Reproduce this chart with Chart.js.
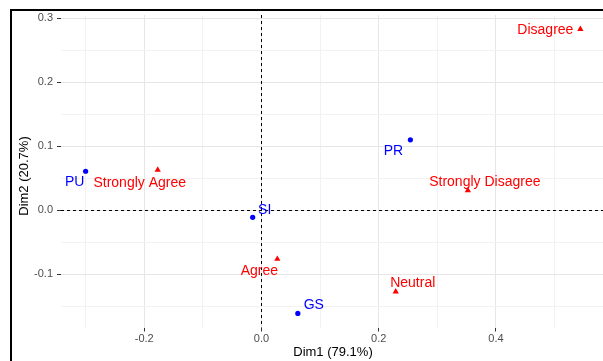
<!DOCTYPE html>
<html>
<head>
<meta charset="utf-8">
<script src="https://cdn.jsdelivr.net/npm/chart.js@4/dist/chart.umd.min.js"></script>
<style>
html,body{margin:0;padding:0;background:#fff;overflow:hidden;width:603px;height:361px;}
canvas{display:block;}
</style>
</head>
<body>
<canvas id="c" width="610" height="361"></canvas>
<script>
// ---- data ----
const varNames = ['PU', 'SI', 'GS', 'PR'];
const varX = [-0.300, -0.015, 0.062, 0.254];
const varY = [0.061, -0.011, -0.161, 0.110];

const catNames = ['Strongly Agree', 'Agree', 'Neutral', 'Strongly Disagree', 'Disagree'];
const catX = [-0.177, 0.027, 0.229, 0.352, 0.544];
const catY = [0.063, -0.076, -0.127, 0.031, 0.283];

const xGridValues = [-0.3, -0.2, -0.1, 0.0, 0.1, 0.2, 0.3, 0.4, 0.5];
const xTickLabels = [-0.2, 0.0, 0.2, 0.4];
const yGridValues = [-0.15, -0.1, -0.05, 0.0, 0.05, 0.1, 0.15, 0.2, 0.25, 0.3];
const yTickLabels = [-0.1, 0.0, 0.1, 0.2, 0.3];

const xTitle = 'Dim1 (79.1%)';
const yTitle = 'Dim2 (20.7%)';

// ---- styling ----
const FONT = '"Liberation Sans", Arial, sans-serif';
const labelOffsets = {
  'PU': [-11, 11], 'SI': [12, -7], 'GS': [16, -8], 'PR': [-17, 11],
  'Strongly Agree': [-18, 13], 'Agree': [-18, 12], 'Neutral': [17, -8],
  'Strongly Disagree': [17, -8], 'Disagree': [-35, 1.5]
};
function isMajor(v, list) { return list.some(t => Math.abs(t - v) < 1e-9); }

const pointLabels = {
  id: 'pointLabels',
  beforeDatasetsDraw(chart) {
    const ctx = chart.ctx, a = chart.chartArea;
    const x0 = chart.scales.x.getPixelForValue(0);
    const y0 = chart.scales.y.getPixelForValue(0);
    ctx.save();
    ctx.strokeStyle = '#000';
    ctx.lineWidth = 1;
    ctx.setLineDash([3, 3]);
    ctx.beginPath();
    ctx.moveTo(Math.round(x0) + 0.5, a.top);
    ctx.lineTo(Math.round(x0) + 0.5, a.bottom);
    ctx.moveTo(a.left, Math.round(y0) + 0.5);
    ctx.lineTo(a.right, Math.round(y0) + 0.5);
    ctx.stroke();
    ctx.restore();
  },
  afterDatasetsDraw(chart) {
    const ctx = chart.ctx;
    ctx.save();
    ctx.font = '14px ' + FONT;
    ctx.textAlign = 'center';
    ctx.textBaseline = 'middle';
    chart.data.datasets.forEach((ds, di) => {
      const meta = chart.getDatasetMeta(di);
      ctx.fillStyle = ds.labelColor;
      meta.data.forEach((el, i) => {
        const name = ds.names[i];
        const off = labelOffsets[name] || [0, 0];
        ctx.fillText(name, el.x + off[0], el.y + off[1]);
      });
    });
    ctx.restore();
  },
  afterDraw(chart) {
    const ctx = chart.ctx;
    ctx.save();
    // y axis title
    ctx.translate(24, 176);
    ctx.rotate(-Math.PI / 2);
    ctx.font = '13px ' + FONT;
    ctx.fillStyle = '#000';
    ctx.textAlign = 'center';
    ctx.textBaseline = 'middle';
    ctx.fillText(yTitle, 0, 0);
    ctx.restore();
    ctx.save();
    ctx.fillStyle = '#000';
    ctx.fillRect(10, 9, 2, 361);
    ctx.fillRect(10, 9, 610, 2);
    ctx.restore();
  }
};

new Chart(document.getElementById('c'), {
  type: 'scatter',
  data: {
    datasets: [
      {
        label: 'variables',
        names: varNames,
        labelColor: '#0000FF',
        data: varX.map((x, i) => ({ x: x, y: varY[i] })),
        pointStyle: 'circle',
        pointRadius: 2.6,
        backgroundColor: '#0000FF',
        borderColor: '#0000FF',
        borderWidth: 0
      },
      {
        label: 'categories',
        names: catNames,
        labelColor: '#FF0000',
        data: catX.map((x, i) => ({ x: x, y: catY[i] })),
        pointStyle: 'triangle',
        pointRadius: 3.6,
        backgroundColor: '#FF0000',
        borderColor: '#FF0000',
        borderWidth: 0
      }
    ]
  },
  options: {
    responsive: false,
    animation: false,
    events: [],
    layout: { padding: { top: 15, right: 5, left: 0, bottom: 0 } },
    plugins: { legend: { display: false }, tooltip: { enabled: false } },
    scales: {
      x: {
        type: 'linear',
        position: 'bottom',
        min: -0.342,
        max: 0.586,
        afterBuildTicks: s => { s.ticks = xGridValues.map(v => ({ value: v })); },
        afterFit: s => { s.height = 33.5; },
        border: { display: false },
        grid: {
          color: c => isMajor(c.tick.value, xTickLabels) ? '#e6e6e6' : '#f2f2f2',
          lineWidth: 1,
          tickLength: 4,
          tickColor: c => isMajor(c.tick.value, xTickLabels) ? '#333333' : 'rgba(0,0,0,0)'
        },
        ticks: {
          autoSkip: false,
          maxRotation: 0,
          padding: 1,
          color: '#4d4d4d',
          font: { family: FONT, size: 11 },
          callback: v => isMajor(v, xTickLabels) ? v.toFixed(1) : ''
        },
        title: {
          display: true,
          text: xTitle,
          color: '#000',
          font: { family: FONT, size: 13 },
          padding: { top: 0, bottom: 1 }
        }
      },
      y: {
        type: 'linear',
        position: 'left',
        min: -0.183,
        max: 0.305,
        afterBuildTicks: s => { s.ticks = yGridValues.map(v => ({ value: v })); },
        afterFit: s => { s.width = 61; },
        border: { display: false },
        grid: {
          color: c => isMajor(c.tick.value, yTickLabels) ? '#e6e6e6' : '#f2f2f2',
          lineWidth: 1,
          tickLength: 4,
          tickColor: c => isMajor(c.tick.value, yTickLabels) ? '#333333' : 'rgba(0,0,0,0)'
        },
        ticks: {
          autoSkip: false,
          padding: 4,
          color: '#4d4d4d',
          font: { family: FONT, size: 11 },
          callback: v => isMajor(v, yTickLabels) ? v.toFixed(1) : ''
        },
        title: { display: false }
      }
    }
  },
  plugins: [pointLabels]
});
</script>
</body>
</html>
